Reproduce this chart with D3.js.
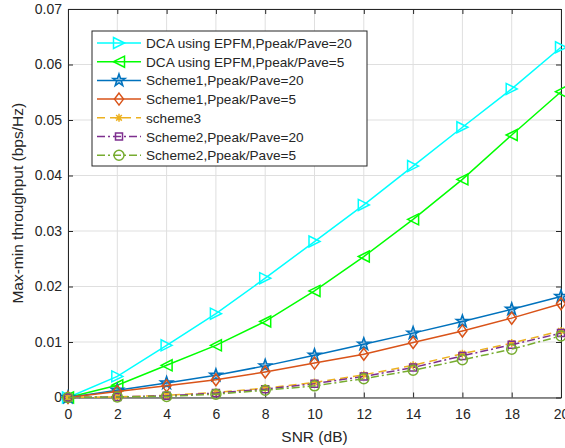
<!DOCTYPE html>
<html>
<head>
<meta charset="utf-8">
<script src="https://cdn.jsdelivr.net/npm/d3@7"></script>
<style>
  body { margin: 0; background: #fff; }
  svg text { font-family: "Liberation Sans", Arial, Helvetica, sans-serif; fill: #262626; }
</style>
</head>
<body>
<svg width="565" height="448"></svg>
<script>
// SNR values (dB)
var snr = [0, 2, 4, 6, 8, 10, 12, 14, 16, 18, 20];

// series values
var dca20     = [0, 0.0038, 0.0094, 0.0151, 0.0215, 0.0281, 0.0347, 0.0417, 0.0487, 0.0556, 0.0631];
var dca5      = [0, 0.0022, 0.0058, 0.0094, 0.0137, 0.0192, 0.0254, 0.0321, 0.0393, 0.0473, 0.0551];
var scheme1_20 = [0, 0.0013, 0.0026, 0.0040, 0.0057, 0.0076, 0.0096, 0.0116, 0.0137, 0.0159, 0.0182];
var scheme1_5  = [0, 0.0011, 0.0021, 0.0032, 0.0046, 0.0062, 0.0078, 0.0099, 0.0120, 0.0143, 0.0169];
var scheme3    = [0, 0.0001, 0.0004, 0.0009, 0.0017, 0.0027, 0.0041, 0.0058, 0.0079, 0.0098, 0.0120];
var scheme2_20 = [0, 0.0001, 0.0003, 0.0008, 0.0015, 0.0025, 0.0038, 0.0054, 0.0075, 0.0095, 0.0116];
var scheme2_5  = [0, 0.0001, 0.0002, 0.0006, 0.0013, 0.0021, 0.0034, 0.0049, 0.0068, 0.0087, 0.0111];

var xTicks = [0, 2, 4, 6, 8, 10, 12, 14, 16, 18, 20];
var yTicks = [0, 0.01, 0.02, 0.03, 0.04, 0.05, 0.06, 0.07];

var series = [
  { name: 'DCA using EPFM,Ppeak/Pave=20', values: dca20, color: '#00FFFF', marker: 'tri-right', dash: null },
  { name: 'DCA using EPFM,Ppeak/Pave=5', values: dca5, color: '#00FF00', marker: 'tri-left', dash: null },
  { name: 'Scheme1,Ppeak/Pave=20', values: scheme1_20, color: '#0072BD', marker: 'star', dash: null },
  { name: 'Scheme1,Ppeak/Pave=5', values: scheme1_5, color: '#D95319', marker: 'diamond', dash: null },
  { name: 'scheme3', values: scheme3, color: '#EDB120', marker: 'asterisk', dash: '8,5' },
  { name: 'Scheme2,Ppeak/Pave=20', values: scheme2_20, color: '#7E2F8E', marker: 'square', dash: '8,3,2,3' },
  { name: 'Scheme2,Ppeak/Pave=5', values: scheme2_5, color: '#77AC30', marker: 'circle', dash: '8,3,2,3' }
];

var svg = d3.select('svg');

var x = d3.scaleLinear().domain([0, 20]).range([68, 561]);
var y = d3.scaleLinear().domain([0, 0.07]).range([397.5, 9]);

// grid
var grid = svg.append('g');
grid.selectAll('line.vx')
  .data(xTicks)
  .enter()
  .append('line')
    .attr('x1', d => x(d)).attr('x2', d => x(d))
    .attr('y1', y(0)).attr('y2', y(0.07))
    .attr('stroke', '#dfdfdf').attr('stroke-width', 1);
grid.selectAll('line.hy')
  .data(yTicks)
  .enter()
  .append('line')
    .attr('x1', x(0)).attr('x2', x(20))
    .attr('y1', d => y(d)).attr('y2', d => y(d))
    .attr('stroke', '#dfdfdf').attr('stroke-width', 1);

// axes, ticks pointing inward
var xAxis = d3.axisBottom(x).tickValues(xTicks).tickSizeInner(-5).tickSizeOuter(0).tickPadding(12);
var yAxis = d3.axisLeft(y).tickValues(yTicks).tickSizeInner(-5).tickSizeOuter(0).tickPadding(6)
  .tickFormat(d => d === 0 ? '0' : d3.format('.2f')(d));

var gx = svg.append('g').attr('transform', 'translate(0,' + y(0) + ')').call(xAxis);
var gy = svg.append('g').attr('transform', 'translate(' + x(0) + ',0)').call(yAxis);
var gxTop = svg.append('g').attr('transform', 'translate(0,' + y(0.07) + ')')
  .call(d3.axisTop(x).tickValues(xTicks).tickSizeInner(-5).tickSizeOuter(0).tickFormat(''));
var gyRight = svg.append('g').attr('transform', 'translate(' + x(20) + ',0)')
  .call(d3.axisRight(y).tickValues(yTicks).tickSizeInner(-5).tickSizeOuter(0).tickFormat(''));

[gx, gy, gxTop, gyRight].forEach(g => {
  g.select('.domain').attr('stroke', '#262626').attr('stroke-width', 1);
  g.selectAll('.tick line').attr('stroke', '#262626');
  g.selectAll('text').style('font-size', '14px').attr('fill', '#262626')
    .style('font-family', '"Liberation Sans", Arial, sans-serif');
});

// marker shapes
function markerPath(type, cx, cy) {
  var r = 5.5;
  switch (type) {
    case 'tri-right':
      return 'M' + (cx + r) + ',' + cy + 'L' + (cx - r) + ',' + (cy - r) + 'L' + (cx - r) + ',' + (cy + r) + 'Z';
    case 'tri-left':
      return 'M' + (cx - r) + ',' + cy + 'L' + (cx + r) + ',' + (cy - r) + 'L' + (cx + r) + ',' + (cy + r) + 'Z';
    case 'diamond':
      return 'M' + cx + ',' + (cy - 6) + 'L' + (cx + 4.5) + ',' + cy + 'L' + cx + ',' + (cy + 6) + 'L' + (cx - 4.5) + ',' + cy + 'Z';
    case 'square':
      return 'M' + (cx - 3.5) + ',' + (cy - 3.5) + 'h7v7h-7Z';
    case 'asterisk':
      var s = 4, p = '';
      [0, 45, 90, 135].forEach(a => {
        var dx = s * Math.cos(a * Math.PI / 180), dy = s * Math.sin(a * Math.PI / 180);
        p += 'M' + (cx - dx) + ',' + (cy - dy) + 'L' + (cx + dx) + ',' + (cy + dy);
      });
      return p;
    case 'star':
      var pts = [];
      for (var i = 0; i < 10; i++) {
        var rr = i % 2 === 0 ? 6.5 : 2.6;
        var ang = -Math.PI / 2 + i * Math.PI / 5;
        pts.push([cx + rr * Math.cos(ang), cy + rr * Math.sin(ang)]);
      }
      return 'M' + pts.join('L') + 'Z';
  }
  return '';
}

function drawMarker(g, s, cx, cy) {
  if (s.marker === 'circle') {
    g.append('circle').attr('cx', cx).attr('cy', cy).attr('r', 5)
      .attr('fill', 'none').attr('stroke', s.color).attr('stroke-width', 1.5);
  } else {
    g.append('path').attr('d', markerPath(s.marker, cx, cy))
      .attr('fill', s.marker === 'star' ? s.color : 'none')
      .attr('fill-opacity', s.marker === 'star' ? 0.35 : 1)
      .attr('stroke', s.color).attr('stroke-width', 1.5);
  }
}

var line = d3.line().x((d, i) => x(snr[i])).y(d => y(d));

var plot = svg.append('g');
series.forEach(s => {
  var g = plot.append('g');
  g.append('path')
    .attr('d', line(s.values))
    .attr('fill', 'none')
    .attr('stroke', s.color)
    .attr('stroke-width', 1.5)
    .attr('stroke-dasharray', s.dash);
  s.values.forEach((v, i) => drawMarker(g, s, x(snr[i]), y(v)));
});

// legend
var legend = svg.append('g');
legend.append('rect')
  .attr('x', 92).attr('y', 31).attr('width', 275).attr('height', 135)
  .attr('fill', '#fff').attr('stroke', '#262626').attr('stroke-width', 1);

series.forEach((s, i) => {
  var ly = 43 + i * 18.7;
  var g = legend.append('g');
  g.append('line')
    .attr('x1', 97).attr('x2', 141).attr('y1', ly).attr('y2', ly)
    .attr('stroke', s.color).attr('stroke-width', 1.5)
    .attr('stroke-dasharray', s.dash);
  drawMarker(g, s, 119, ly);
  g.append('text')
    .attr('x', 146).attr('y', ly + 5)
    .style('font-size', '13.6px')
    .text(s.name);
});

// axis labels
svg.append('text')
  .attr('x', x(10)).attr('y', 442)
  .attr('text-anchor', 'middle')
  .style('font-size', '15.5px')
  .text('SNR (dB)');

svg.append('text')
  .attr('transform', 'translate(23,' + y(0.035) + ') rotate(-90)')
  .attr('text-anchor', 'middle')
  .style('font-size', '15.5px')
  .text('Max-min throughput (bps/Hz)');
</script>
</body>
</html>
